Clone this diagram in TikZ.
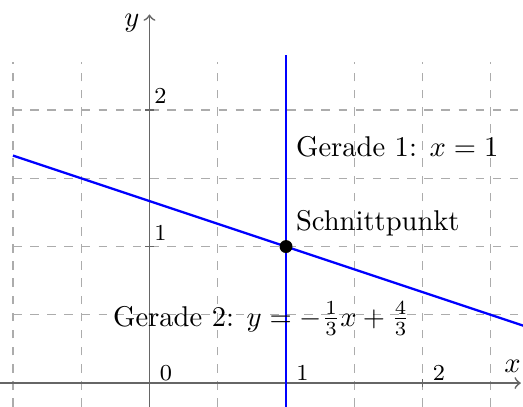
\documentclass[tikz,border=0pt]{standalone}
\usepackage{amsmath, amssymb}
\usepackage{tikz}
\usetikzlibrary{calc}
\tikzset{
    gitter/.style={gray!65, dashed, thin},
    achse/.style={->, black!60, semithick},
    tickmark/.style={black!60, semithick},
    gerade/.style={blue, thick},
    punkt/.style={circle, fill=black, inner sep=1.6pt, outer sep=0pt},
    ticklabel/.style={font=\footnotesize, inner sep=0pt}
}

\begin{document}
\begin{tikzpicture}[x=1.68cm, y=1.68cm]
            \useasboundingbox (-1.095,-0.168) rectangle (2.736,2.806);

            % 1. Gitter
            \draw[gitter] (-1,-0.3) grid[step=0.5] (2.8,2.35);

            % 2. Achsen
            \coordinate (xa) at (-1.1,0);
            \coordinate (xe) at (2.72,0);
            \coordinate (ya) at (0,-0.3);
            \coordinate (ye) at (0,2.70);
            \draw[achse] (xa) -- (xe);
            \draw[achse] (ya) -- (ye);
            \node[above] (xl) at (2.66,0) {$x$};
            \node[left] (yl) at (0,2.64) {$y$};
            \foreach \i in {0,1,2} {
                \draw[tickmark] (\i,-0.03) -- (\i,0.03);
                \node[ticklabel] (xt\i) at (\i+0.12,0.075) {\i};
            }
            \foreach \i in {1,2} {
                \draw[tickmark] (-0.03,\i) -- (0.03,\i);
                \node[ticklabel] (yt\i) at (0.08,\i+0.1) {\i};
            }

            % 3. Geraden
            \coordinate (g1u) at (1,-0.3);
            \coordinate (g1o) at (1,2.4);
            \coordinate (g2l) at (-1,{5/3});
            \coordinate (g2r) at (2.8,{(4-2.8)/3});
            \draw[gerade] (g1u) -- (g1o);
            \draw[gerade] (g2l) -- (g2r);

            % 4. Schnittpunkt und Beschriftungen
            \node[punkt] (S) at (1,1) {};
            \node[above right] (sl) at (S.center) {Schnittpunkt};
            \node[right] (g1l) at (1,1.73) {Gerade 1: $x = 1$};
            \node (g2t) at (0.82,0.47) {Gerade 2: $y = -\frac{1}{3}x + \frac{4}{3}$};
        \end{tikzpicture}
\end{document}
